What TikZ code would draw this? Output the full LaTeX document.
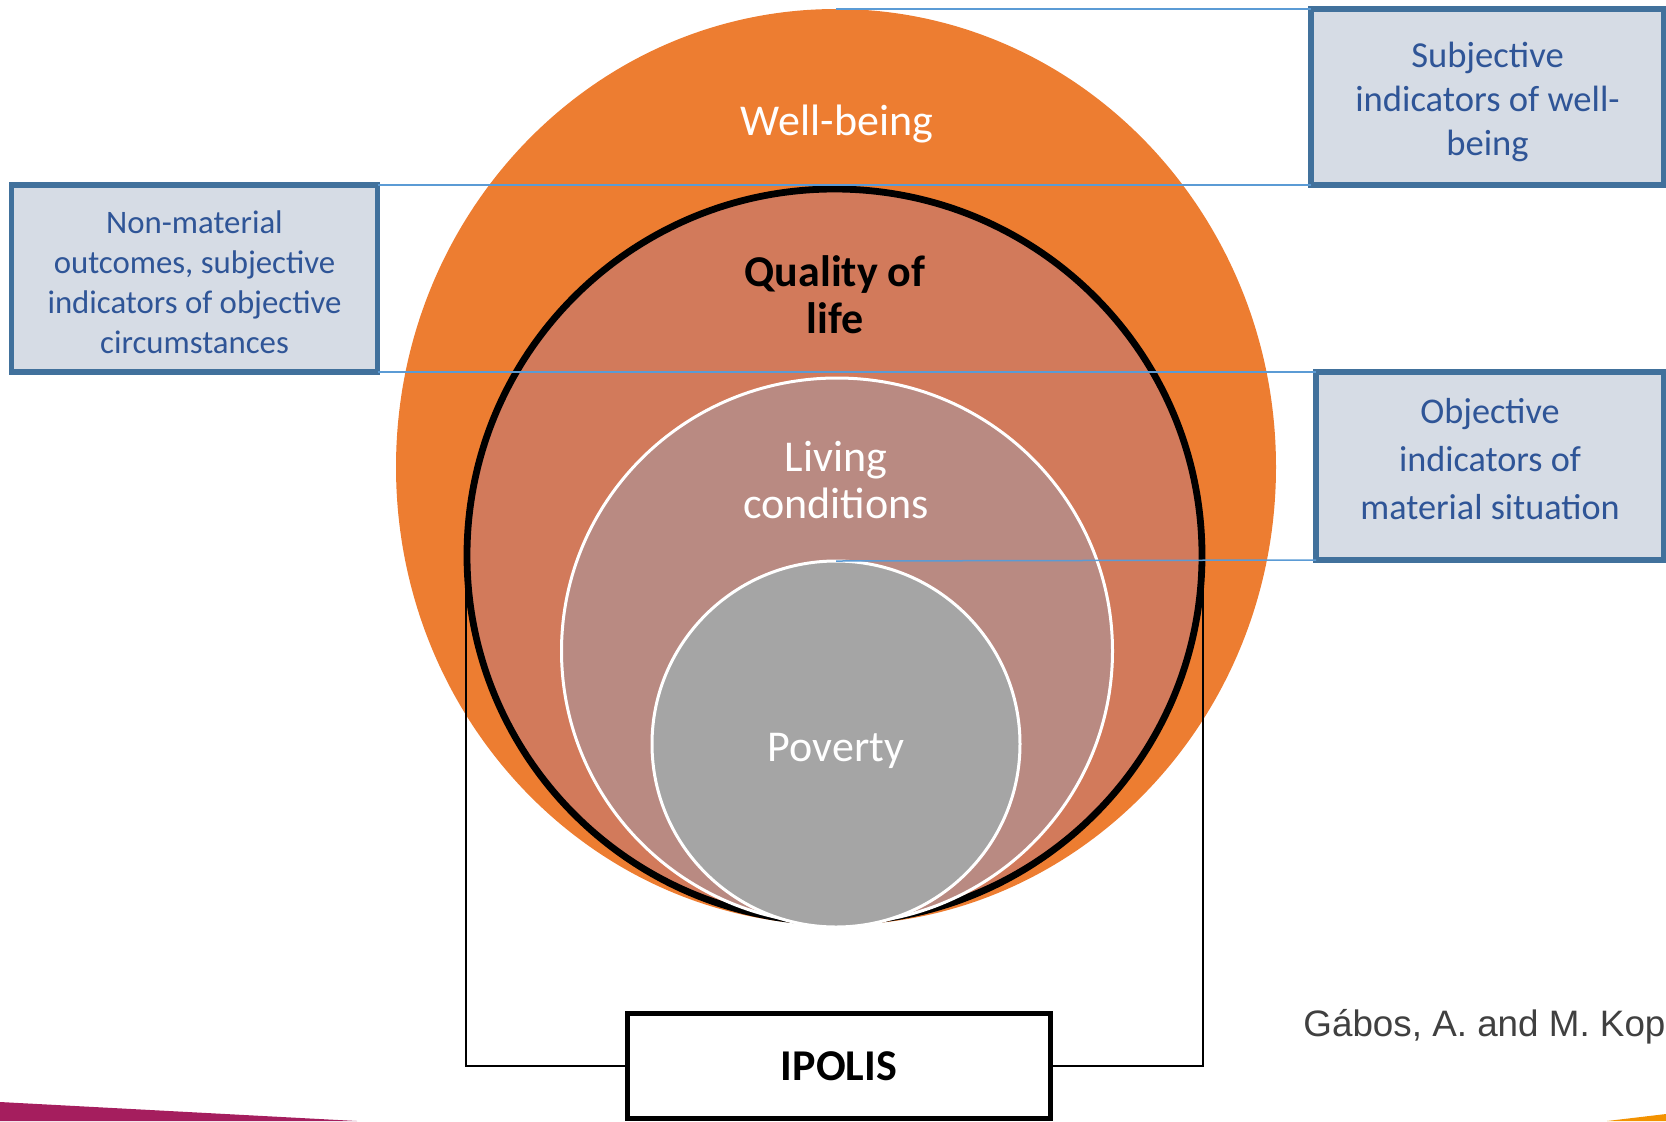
\documentclass[tikz,border=0pt]{standalone}
\usepackage{fontspec}
\setmainfont{Carlito}
\newfontfamily\citefont{Liberation Sans}
\usetikzlibrary{shapes}

\definecolor{wbfill}{HTML}{ED7D31}
\definecolor{qolfill}{HTML}{D27A5B}
\definecolor{lcfill}{HTML}{B98A82}
\definecolor{povfill}{HTML}{A5A5A5}
\definecolor{boxfill}{HTML}{D6DCE5}
\definecolor{boxdraw}{HTML}{41719C}
\definecolor{boxtext}{HTML}{2F5597}
\definecolor{linkblue}{HTML}{5B9BD5}
\definecolor{citegray}{HTML}{404040}
\definecolor{stripmagenta}{HTML}{A51E5E}
\definecolor{striporange}{HTML}{F39200}

\begin{document}
\begin{tikzpicture}[x=0.5pt, y=-0.5pt,
          ring/.style={ellipse, inner sep=0pt, outer sep=0pt},
          infobox/.style={rectangle, draw=boxdraw, line width=2.7pt, fill=boxfill, inner sep=0pt, outer sep=0pt},
          boxlabel/.style={text=boxtext, align=center, inner sep=0pt},
          ipolisbox/.style={rectangle, draw=black, line width=2.5pt, fill=white, inner sep=0pt, outer sep=0pt, minimum width=211.5pt, minimum height=52.5pt, font=\bfseries\fontsize{22}{26}\selectfont},
          link/.style={draw=linkblue, line width=0.75pt},
          bracket/.style={draw=black, line width=1.4pt},
          ringlabel/.style={font=\fontsize{22}{23.5}\selectfont, align=center, inner sep=0pt}]
          \useasboundingbox (0,0) rectangle (1666,1121);

          \fill[stripmagenta] (0,1102) -- (357,1121) -- (0,1121) -- cycle;
          \fill[striporange] (1607,1121) -- (1666,1114) -- (1666,1121) -- cycle;

          \node[ring, fill=wbfill, minimum width=440pt, minimum height=458pt] (wb) at (836,467) {};
          \node[ring, fill=qolfill, draw=black, line width=3.4pt, minimum width=367.5pt, minimum height=366.5pt] (qol) at (834.5,555.5) {};
          \node[ring, fill=lcfill, draw=white, line width=1.5pt, minimum width=275.5pt, minimum height=273pt] (lc) at (837,651) {};
          \node[ring, fill=povfill, draw=white, line width=1.5pt, minimum width=184pt, minimum height=183pt] (pov) at (836,744) {};

          \node[ringlabel, text=white, anchor=base] (wbtext) at (837,135.5) {Well-being};
          \node[ringlabel, font=\bfseries\fontsize{22}{23.5}\selectfont] (qoltext) at (835,295) {Quality of\\life};
          \node[ringlabel, text=white] (lctext) at (836,480) {Living\\conditions};
          \node[ringlabel, text=white, anchor=base] (povtext) at (836,761) {Poverty};

          \node[ipolisbox] (ipolis) at (839,1066) {IPOLIS};
          \coordinate (qolleft) at (466,534);
          \coordinate (qolright) at (1203,560);
          \draw[bracket] (qolleft) |- (ipolis.west);
          \draw[bracket] (qolright) |- (ipolis.east);

          \node[infobox, minimum width=183pt, minimum height=93.5pt] (nonmat) at (194.5,278.5) {};
          \node[infobox, minimum width=176.5pt, minimum height=88pt] (subj) at (1487.5,97) {};
          \node[infobox, minimum width=174pt, minimum height=94pt] (obj) at (1490,466) {};
          \node[boxlabel, font=\fontsize{16.4}{20}\selectfont] (nonmattext) at ([yshift=-2pt]nonmat.center) {Non-material\\outcomes, subjective\\indicators of objective\\circumstances};
          \node[boxlabel, font=\fontsize{18.3}{22}\selectfont] (subjtext) at ([yshift=-2.5pt]subj.center) {Subjective\\indicators of well-\\being};
          \node[boxlabel, font=\fontsize{18.1}{24}\selectfont] (objtext) at ([yshift=3.25pt]obj.center) {Objective\\indicators of\\material situation};

          \draw[link] (wb.north) -- (subj.north west);
          \draw[link] (nonmat.north east) -- (subj.south west);
          \draw[link] (nonmat.south east) -- (obj.north west);
          \draw[link] (pov.north) -- (obj.south west);

          \node[anchor=base west, inner sep=0pt, text=citegray, font=\citefont\fontsize{18.4}{22}\selectfont] (cite) at (1303,1036) {Gábos, A. and M. Kop};
        \end{tikzpicture}
\end{document}
